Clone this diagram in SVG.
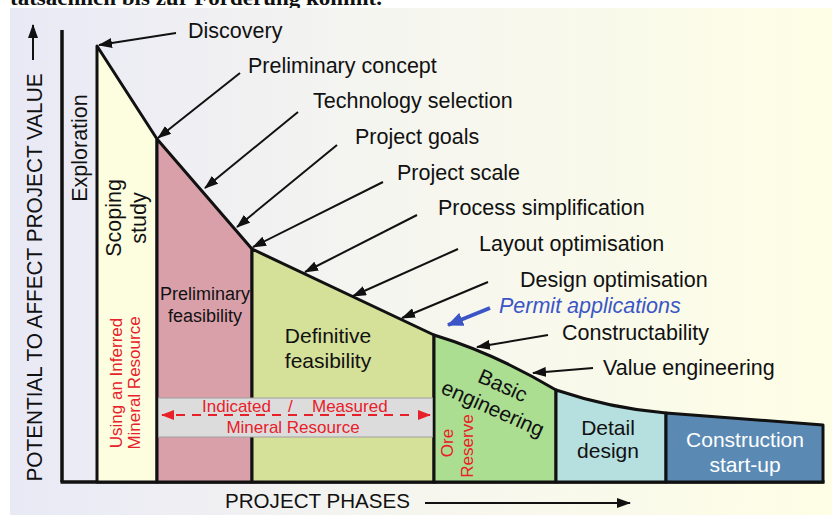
<svg xmlns="http://www.w3.org/2000/svg" width="832" height="515" viewBox="0 0 832 515">
<defs>
<linearGradient id="bg" x1="0" y1="0" x2="1" y2="0">
<stop offset="0" stop-color="#e9e9f6"/>
<stop offset="0.45" stop-color="#f5f5f0"/>
<stop offset="1" stop-color="#fefee6"/>
</linearGradient>
<marker id="ah" viewBox="0 0 14 10" refX="13" refY="5" markerWidth="14" markerHeight="10" markerUnits="userSpaceOnUse" orient="auto">
<path d="M0,0 L14,5 L0,10 Z" fill="#111"/>
</marker>
<marker id="ahb" viewBox="0 0 16 14" refX="15" refY="7" markerWidth="16" markerHeight="14" markerUnits="userSpaceOnUse" orient="auto">
<path d="M0,0 L16,7 L0,14 Z" fill="#3b55c6"/>
</marker>
<marker id="ahr" viewBox="0 0 13 10" refX="12" refY="5" markerWidth="13" markerHeight="10" markerUnits="userSpaceOnUse" orient="auto">
<path d="M0,0 L13,5 L0,10 Z" fill="#e8202a"/>
</marker>
</defs>
<style>
.t{font-family:"Liberation Sans",Arial,Helvetica,sans-serif;fill:#111;}
.lab{font-size:21.5px;}
.in{font-size:21px;text-anchor:middle;}
.red{font-family:"Liberation Sans",Arial,Helvetica,sans-serif;fill:#e8202a;font-size:17px;}
.ph{stroke:#111;stroke-width:3;stroke-linejoin:round;}
.arr{stroke:#111;stroke-width:2;fill:none;marker-end:url(#ah);}
</style>
<rect x="0" y="0" width="832" height="515" fill="#ffffff"/>
<text x="10" y="5" font-family="'Liberation Serif','Times New Roman',serif" font-weight="bold" font-size="22" fill="#111" textLength="372" lengthAdjust="spacingAndGlyphs">tatsächlich bis zur Förderung kommt.</text>
<rect x="10" y="8" width="822" height="507" fill="url(#bg)"/>

<g id="axes">
<line x1="62" y1="30" x2="62" y2="482" stroke="#111" stroke-width="3.5"/>
<line x1="60.5" y1="482" x2="824.5" y2="482" stroke="#111" stroke-width="3.5"/>
<line x1="33" y1="60" x2="33" y2="25" class="arr" stroke-width="2.5"/>
<text class="t" transform="translate(42,277.5) rotate(-90)" text-anchor="middle" font-size="22" textLength="408" lengthAdjust="spacingAndGlyphs">POTENTIAL TO AFFECT PROJECT VALUE</text>
<text class="t" x="225" y="508" font-size="20" textLength="185" lengthAdjust="spacingAndGlyphs">PROJECT PHASES</text>
<line x1="425" y1="503" x2="630" y2="503" class="arr"/>
</g>

<g id="exploration">
<text class="t lab" transform="translate(87,148) rotate(-90)" text-anchor="middle">Exploration</text>
</g>

<g id="scoping">
<polygon class="ph" points="97,46 157,139 157,482 97,482" fill="#fdfde0"/>
<text class="t lab" transform="translate(121,218) rotate(-90)" text-anchor="middle">Scoping</text>
<text class="t lab" transform="translate(146,218) rotate(-90)" text-anchor="middle">study</text>
<text class="red" transform="translate(122,383) rotate(-90)" text-anchor="middle">Using an Inferred</text>
<text class="red" transform="translate(140,383) rotate(-90)" text-anchor="middle">Mineral Resource</text>
</g>

<g id="prelim">
<polygon class="ph" points="157,139 252,249 252,482 157,482" fill="#d9a0aa"/>
<text class="t" x="205" y="300" font-size="18" text-anchor="middle">Preliminary</text>
<text class="t" x="205" y="322" font-size="18" text-anchor="middle">feasibility</text>
</g>

<g id="definitive">
<polygon class="ph" points="252,249 434,335 434,482 252,482" fill="#d5e098"/>
<text class="t in" x="328" y="343">Definitive</text>
<text class="t in" x="328" y="368">feasibility</text>
</g>

<g id="basic">
<path class="ph" d="M434,335 Q495,353.5 556,390 L556,482 L434,482 Z" fill="#abde91"/>
<text class="t in" transform="translate(500,392) rotate(24)">Basic</text>
<text class="t in" transform="translate(490,415) rotate(24)">engineering</text>
<text class="red" transform="translate(453,443) rotate(-90)" text-anchor="middle" font-size="15.5">Ore</text>
<text class="red" transform="translate(473,446) rotate(-90)" text-anchor="middle" font-size="15.5">Reserve</text>
</g>

<g id="detail">
<path class="ph" d="M556,390 Q611,408.5 666,413 L666,482 L556,482 Z" fill="#b6dfe0"/>
<text class="t in" x="608" y="435">Detail</text>
<text class="t in" x="608" y="458">design</text>
</g>

<g id="construction">
<polygon class="ph" points="666,413 823,425 823,482 666,482" fill="#5a8ab4"/>
<text class="t in" x="745" y="447" style="fill:#ffffff">Construction</text>
<text class="t in" x="745" y="472" style="fill:#ffffff">start-up</text>
</g>

<g id="mineral-resource-band">
<rect x="158.5" y="398" width="274" height="39" fill="#dcdcdc" stroke="#a0a0a0" stroke-width="1"/>
<line x1="176" y1="415" x2="416" y2="415" stroke="#e8202a" stroke-width="2" stroke-dasharray="9,7"/>
<line x1="172" y1="415" x2="162" y2="415" stroke="#e8202a" stroke-width="2" marker-end="url(#ahr)"/>
<line x1="418" y1="415" x2="430" y2="415" stroke="#e8202a" stroke-width="2" marker-end="url(#ahr)"/>
<text class="red" x="202" y="412">Indicated</text>
<text class="red" x="288" y="412">/</text>
<text class="red" x="312" y="412">Measured</text>
<text class="red" x="293" y="433" text-anchor="middle">Mineral Resource</text>
</g>

<g id="labels">
<text class="t lab" x="188" y="38">Discovery</text>
<text class="t lab" x="248" y="73">Preliminary concept</text>
<text class="t lab" x="313" y="108">Technology selection</text>
<text class="t lab" x="355" y="144">Project goals</text>
<text class="t lab" x="397" y="180">Project scale</text>
<text class="t lab" x="438" y="215">Process simplification</text>
<text class="t lab" x="479" y="251">Layout optimisation</text>
<text class="t lab" x="520" y="287">Design optimisation</text>
<text class="lab" x="499" y="313" font-family="'Liberation Sans',Arial,sans-serif" font-style="italic" fill="#3b55c6">Permit applications</text>
<text class="t lab" x="562" y="340">Constructability</text>
<text class="t lab" x="603" y="375">Value engineering</text>
</g>

<g id="connectors">
<line class="arr" x1="176" y1="33" x2="99" y2="45"/>
<line class="arr" x1="240" y1="73" x2="158" y2="138"/>
<line class="arr" x1="298" y1="112" x2="205" y2="188"/>
<line class="arr" x1="337" y1="145" x2="237" y2="227"/>
<line class="arr" x1="383" y1="182" x2="253" y2="247"/>
<line class="arr" x1="417" y1="215" x2="305" y2="272"/>
<line class="arr" x1="458" y1="249" x2="353" y2="296"/>
<line class="arr" x1="488" y1="282" x2="402" y2="318"/>
<line x1="490" y1="308" x2="448" y2="325" stroke="#3b55c6" stroke-width="4" marker-end="url(#ahb)"/>
<line class="arr" x1="548" y1="335" x2="477" y2="347"/>
<line class="arr" x1="593" y1="368" x2="533" y2="373"/>
</g>
</svg>
